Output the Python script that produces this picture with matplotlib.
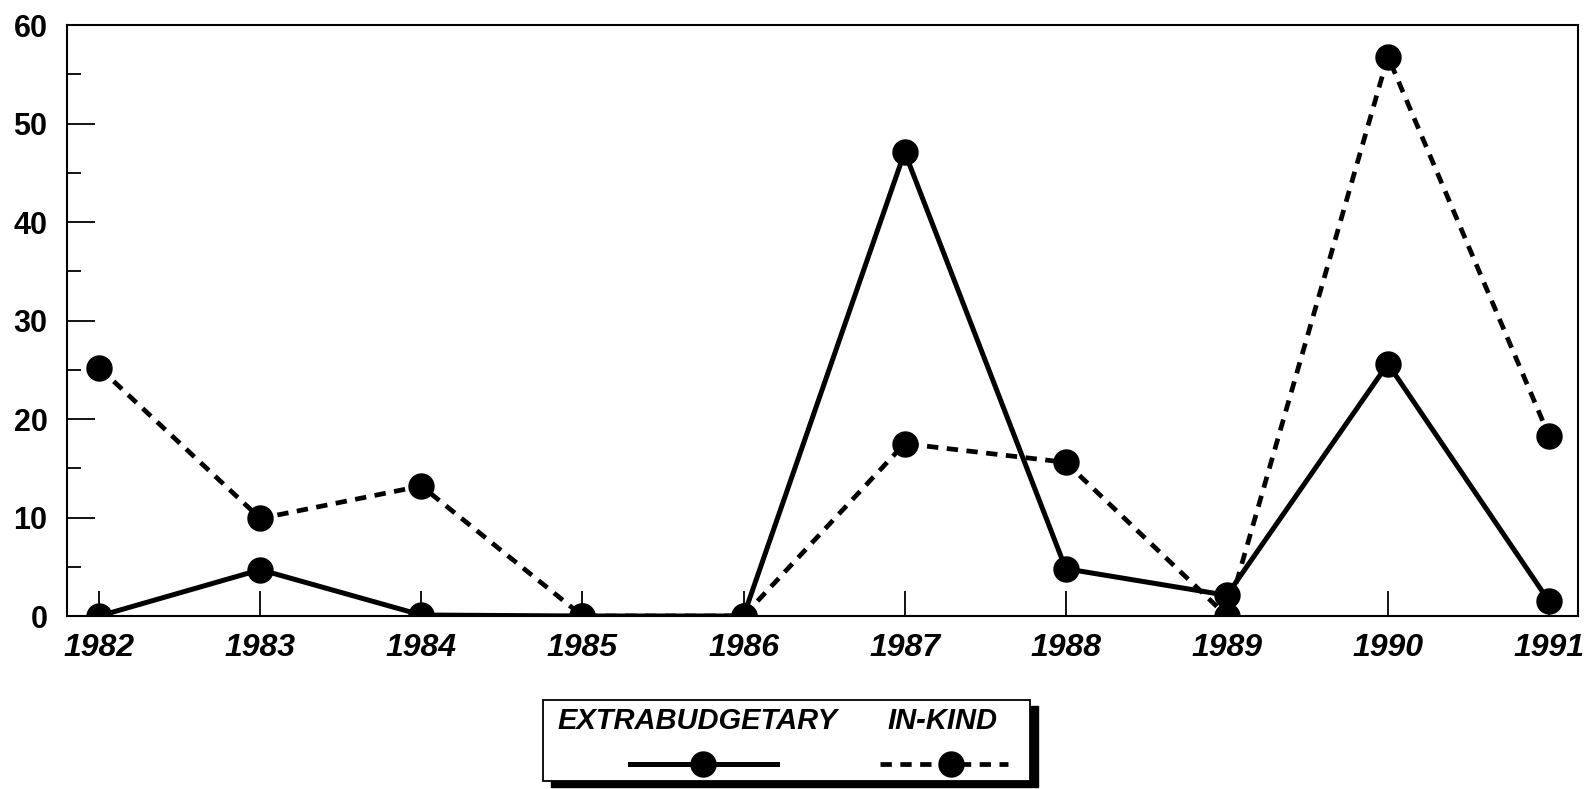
import matplotlib
matplotlib.use("Agg")
import matplotlib.pyplot as plt
from matplotlib.patches import Rectangle
from matplotlib.lines import Line2D
from matplotlib.ticker import MultipleLocator

plt.rcParams['font.family'] = ['Liberation Sans', 'DejaVu Sans']

years = [1982, 1983, 1984, 1985, 1986, 1987, 1988, 1989, 1990, 1991]
extrabudgetary = [0.0, 4.7, 0.1, 0.0, 0.0, 47.1, 4.8, 2.1, 25.6, 1.5]
in_kind = [25.2, 9.9, 13.2, 0.0, 0.0, 17.5, 15.6, 0.0, 56.8, 18.3]
series_labels = ["EXTRABUDGETARY", "IN-KIND"]
y_ticks = [0, 10, 20, 30, 40, 50, 60]

DASH = (0, (2.4, 1.8))
W, H = 1585, 789
fig = plt.figure(figsize=(W / 100, H / 100), dpi=100)
ax = fig.add_axes([67 / W, 1 - 616 / H, (1578 - 67) / W, (616 - 25) / H])

ax.plot(years, extrabudgetary, color='black', lw=3.6, linestyle='-',
        marker='o', markersize=18, zorder=3, solid_capstyle='round')
ax.plot(years, in_kind, color='black', lw=3.4, linestyle=DASH,
        marker='o', markersize=18, zorder=3)

ax.set_xlim(1981.80, 1991.18)
ax.set_ylim(0, 60)
ax.set_xticks(years)
ax.set_xticklabels([str(y) for y in years], fontsize=23, fontweight='bold',
                   fontstyle='italic')
ax.set_yticks(y_ticks)
ax.set_yticklabels([str(v) for v in y_ticks], fontsize=22, fontweight='bold')
ax.yaxis.set_minor_locator(MultipleLocator(5))
ax.tick_params(axis='y', which='major', direction='in', length=20, width=1.3, pad=14)
ax.tick_params(axis='y', which='minor', direction='in', length=10, width=1.3)
ax.tick_params(axis='x', which='major', direction='in', length=18, width=1.3, pad=12)
for s in ax.spines.values():
    s.set_linewidth(1.5)
for lbl in ax.get_xticklabels():
    lbl.set_clip_on(False)

# custom legend box with shadow
lx0, lx1, ly0, ly1 = 543, 1030, 700, 781
shadow = Rectangle(((lx0 + 8) / W, 1 - (ly1 + 6) / H), (lx1 - lx0) / W, (ly1 - ly0) / H,
                   transform=fig.transFigure, facecolor='black', edgecolor='black', zorder=1)
box = Rectangle((lx0 / W, 1 - ly1 / H), (lx1 - lx0) / W, (ly1 - ly0) / H,
                transform=fig.transFigure, facecolor='white', edgecolor='black',
                linewidth=1.3, zorder=2)
fig.patches.extend([shadow, box])

fig.text(697 / W, 1 - 721 / H, series_labels[0], fontsize=21, fontweight='bold',
         fontstyle='italic', ha='center', va='center', zorder=3)
fig.text(942 / W, 1 - 721 / H, series_labels[1], fontsize=21, fontweight='bold',
         fontstyle='italic', ha='center', va='center', zorder=3)

hy = 1 - 764 / H
fig.lines.append(Line2D([630 / W, 777 / W], [hy, hy], transform=fig.transFigure,
                        color='black', lw=3.6, zorder=3))
fig.lines.append(Line2D([703 / W], [hy], transform=fig.transFigure, color='black',
                        marker='o', markersize=18, linestyle='none', zorder=4))
fig.lines.append(Line2D([880 / W, 1008 / W], [hy, hy], transform=fig.transFigure,
                        color='black', lw=3.4, linestyle=DASH, zorder=3))
fig.lines.append(Line2D([951 / W], [hy], transform=fig.transFigure, color='black',
                        marker='o', markersize=18, linestyle='none', zorder=4))

fig.savefig("out.png", dpi=100, facecolor='white')
